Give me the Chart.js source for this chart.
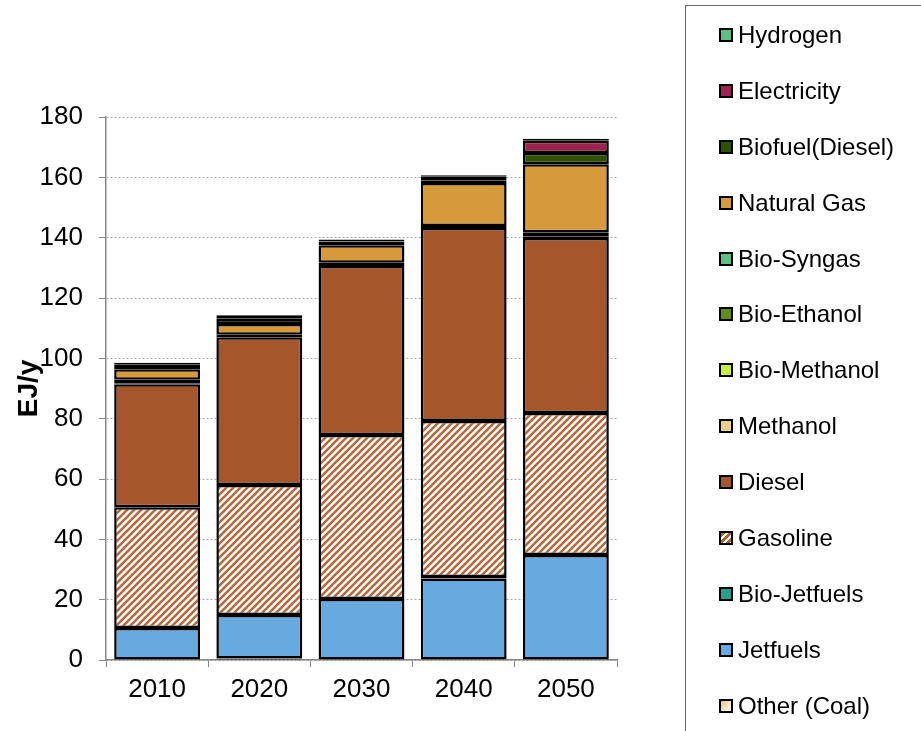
<!DOCTYPE html>
<html>
<head>
<meta charset="utf-8">
<script src="https://cdn.jsdelivr.net/npm/chart.js@4/dist/chart.umd.min.js"></script>
<style>
    body { margin: 0; background: #fff; overflow: hidden; font-family: "Liberation Sans", Arial, sans-serif; }
    #wrap { position: relative; width: 921px; height: 731px; }
    #grafico { position: absolute; left: 0; top: 0; }
    #legenda {
        position: absolute; left: 685px; top: 5px; width: 260px; height: 740px;
        border: 1.5px solid #666; box-sizing: border-box; padding-top: 1px;
    }
    .item { height: 55.9px; display: flex; align-items: center; font-size: 24px; color: #000; }
    .marca { width: 10px; height: 10px; border: 2px solid #000; margin-left: 33px; margin-right: 5px; flex: none; }
</style>
</head>
<body>
<div id="wrap">
    <canvas id="grafico" width="921" height="731"></canvas>
    <div id="legenda"></div>
</div>
<script>
// Dados (EJ/y) - de baixo para cima na pilha
const anos = ['2010', '2020', '2030', '2040', '2050'];
const yTicks = [0, 20, 40, 60, 80, 100, 120, 140, 160, 180];

const otherCoal     = [0, 0.5, 0, 0, 0];
const jetfuels      = [10.6, 14.4, 20.2, 27, 34.8];
const bioJetfuels   = [0, 0, 0, 0.5, 0];
const gasoline      = [40, 43.1, 54.4, 51.7, 47.1];
const diesel        = [40.8, 49, 56, 64, 58];
const methanol      = [0, 0, 0, 0, 0];
const bioMethanol   = [0.3, 0, 0.3, 0, 0.4];
const bioEthanol    = [1.2, 0.8, 0.8, 0.7, 1.5];
const bioSyngas     = [0, 0, 0, 0, 0];
const naturalGas    = [3.5, 3.6, 5.8, 14.2, 22.5];
const biofuelDiesel = [1.5, 1.7, 1.2, 0.9, 3.8];
const electricity   = [0.6, 1.0, 0.7, 1.2, 4];
const hydrogen      = [0, 0.3, 0, 0.5, 0.7];

// Padrao listrado da gasolina
function listras(cor) {
    const c = document.createElement('canvas');
    c.width = 7; c.height = 7;
    const g = c.getContext('2d');
    g.fillStyle = '#fff';
    g.fillRect(0, 0, 7, 7);
    g.strokeStyle = cor;
    g.lineWidth = 2.6;
    g.beginPath();
    g.moveTo(-1, 8); g.lineTo(8, -1);
    g.moveTo(-4.5, 4.5); g.lineTo(4.5, -4.5);
    g.moveTo(2.5, 11.5); g.lineTo(11.5, 2.5);
    g.stroke();
    return g.createPattern(c, 'repeat');
}

const series = [
    { label: 'Other (Coal)',    data: otherCoal,     cor: '#F2DCA6', css: 'linear-gradient(135deg,#E8C27A,#fff)' },
    { label: 'Jetfuels',        data: jetfuels,      cor: '#66AADF' },
    { label: 'Bio-Jetfuels',    data: bioJetfuels,   cor: '#2A9E8E' },
    { label: 'Gasoline',        data: gasoline,      cor: listras('#B8683A'), css: 'repeating-linear-gradient(135deg,#B4622E 0 3px,#fff 3px 5px)' },
    { label: 'Diesel',          data: diesel,        cor: '#A5562B' },
    { label: 'Methanol',        data: methanol,      cor: '#EFCF8A' },
    { label: 'Bio-Methanol',    data: bioMethanol,   cor: '#C6EE3F' },
    { label: 'Bio-Ethanol',     data: bioEthanol,    cor: '#5E8F1C' },
    { label: 'Bio-Syngas',      data: bioSyngas,     cor: '#5BBF80' },
    { label: 'Natural Gas',     data: naturalGas,    cor: '#D69A3B' },
    { label: 'Biofuel(Diesel)', data: biofuelDiesel, cor: '#2E5200' },
    { label: 'Electricity',     data: electricity,   cor: '#9C2350' },
    { label: 'Hydrogen',        data: hydrogen,      cor: '#5BBF80' }
];

const ctx = document.getElementById('grafico').getContext('2d');
const grafico = new Chart(ctx, {
    type: 'bar',
    data: {
        labels: anos,
        datasets: series.map(s => ({
            label: s.label,
            data: s.data,
            backgroundColor: s.cor,
            borderColor: '#000',
            borderWidth: 2.5,
            borderSkipped: false,
            barPercentage: 0.84,
            categoryPercentage: 1
        }))
    },
    options: {
        responsive: false,
        animation: false,
        layout: { padding: { top: 117, right: 304, bottom: 0, left: 0 } },
        plugins: { legend: { display: false }, tooltip: { enabled: false } },
        scales: {
            x: {
                stacked: true,
                afterFit: s => { s.height = 71; },
                grid: { drawOnChartArea: false, drawTicks: true, tickLength: 7, color: '#888', offset: true },
                border: { color: '#888', width: 1.5 },
                ticks: { color: '#000', padding: 7, font: { family: 'Liberation Sans', size: 26 } }
            },
            y: {
                stacked: true,
                min: 0,
                max: 180,
                afterFit: s => { s.width = 106; },
                afterBuildTicks: s => { s.ticks = yTicks.map(v => ({ value: v })); },
                grid: { color: '#aaa', tickColor: '#888', tickLength: 7, tickBorderDash: [] },
                border: { color: '#888', width: 1.5, dash: [2, 2] },
                ticks: { color: '#000', padding: 16, font: { family: 'Liberation Sans', size: 26 } },
                title: {
                    display: true, text: 'EJ/y', color: '#000',
                    padding: { top: 12, bottom: 0 },
                    font: { family: 'Liberation Sans', size: 28, weight: 'bold' }
                }
            }
        }
    }
});

// Legenda em HTML (ordem invertida, como no original)
const legenda = document.getElementById('legenda');
series.slice().reverse().forEach(s => {
    const item = document.createElement('div');
    item.className = 'item';
    const marca = document.createElement('span');
    marca.className = 'marca';
    marca.style.background = s.css || s.cor;
    item.appendChild(marca);
    item.appendChild(document.createTextNode(s.label));
    legenda.appendChild(item);
});
</script>
</body>
</html>
